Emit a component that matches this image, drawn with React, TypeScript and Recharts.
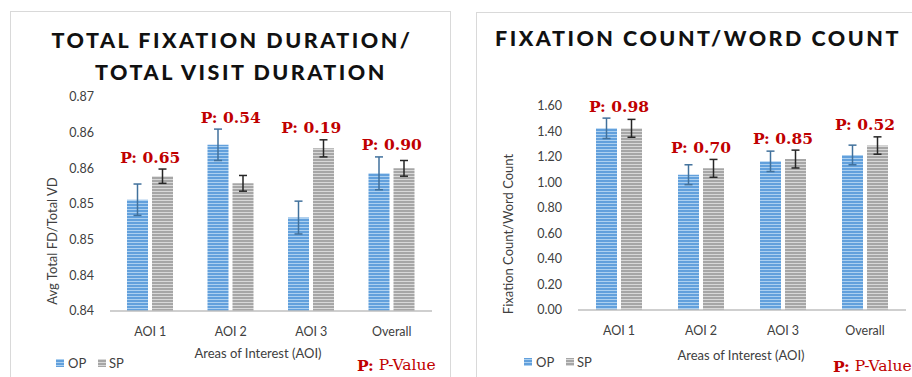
import { ComposedChart, Bar, Line, XAxis, YAxis, ErrorBar, LabelList } from 'recharts';

const categories = ['AOI 1', 'AOI 2', 'AOI 3', 'Overall'];

// left: total fixation duration / total visit duration
const durOP = [0.8556, 0.8633, 0.8531, 0.8593];
const durOPErr = [0.0022, 0.0022, 0.0023, 0.0023];
const durSP = [0.8589, 0.8579, 0.8628, 0.86];
const durSPErr = [0.001, 0.0011, 0.0012, 0.0011];
const durPValues = ['0.65', '0.54', '0.19', '0.90'];
const durTicks = [0.84, 0.845, 0.85, 0.855, 0.86, 0.865, 0.87];
const durTickLabels = ['0.84', '0.84', '0.85', '0.85', '0.86', '0.86', '0.87'];

// right: fixation count / word count
const cntOP = [1.425, 1.061, 1.166, 1.216];
const cntOPErr = [0.08, 0.078, 0.08, 0.077];
const cntSP = [1.425, 1.111, 1.184, 1.29];
const cntSPErr = [0.07, 0.07, 0.07, 0.068];
const cntPValues = ['0.98', '0.70', '0.85', '0.52'];
const cntTicks = [0, 0.2, 0.4, 0.6, 0.8, 1.0, 1.2, 1.4, 1.6];
const cntTickLabels = ['0.00', '0.20', '0.40', '0.60', '0.80', '1.00', '1.20', '1.40', '1.60'];

const sans = 'Lato, "Open Sans", sans-serif';
const serif = '"DejaVu Serif", "Liberation Serif", serif';
const red = '#C00000';
const textGray = '#404040';

function buildRows(op: number[], opErr: number[], sp: number[], spErr: number[], pv: string[]) {
  return categories.map((name, i) => ({
    name,
    op: op[i],
    opErr: opErr[i],
    sp: sp[i],
    spErr: spErr[i],
    pTop: Math.max(op[i] + opErr[i], sp[i] + spErr[i]),
    pLabel: `P: ${pv[i]}`,
  }));
}

const PLabel = (props: any) => {
  const { x, y, value } = props;
  return (
    <text x={x} y={y - 12} textAnchor="middle" dominantBaseline="central" fill={red}
      fontFamily={serif} fontWeight="bold" fontSize={15.5}>
      {value}
    </text>
  );
};

function Panel(props: {
  rows: any[];
  left: number;
  domain: [number, number];
  ticks: number[];
  tickLabels: string[];
  yWidth: number;
  margin: { top: number; right: number; left: number; bottom: number };
}) {
  const { rows, left, domain, ticks, tickLabels, yWidth, margin } = props;
  return (
    <div style={{ position: 'absolute', left, top: 0 }}>
      <ComposedChart width={456} height={377} data={rows} margin={margin} barSize={21} barGap={4}>
        <XAxis dataKey="name" axisLine={{ stroke: '#bfbfbf', strokeWidth: 1.5 }} tickLine={false}
          tickSize={0} tickMargin={16} height={30}
          tick={{ fill: textGray, fontSize: 12.5, fontFamily: sans }} />
        <YAxis type="number" domain={domain} ticks={ticks} interval={0} allowDataOverflow
          tickFormatter={(v: number, i: number) => tickLabels[i] ?? String(v)}
          axisLine={false} tickLine={false} tickSize={0} tickMargin={16} width={yWidth}
          tick={{ fill: textGray, fontSize: 12.5, fontFamily: sans }} />
        <Bar dataKey="op" fill="url(#opStripe)" isAnimationActive={false}>
          <ErrorBar dataKey="opErr" width={4} strokeWidth={1.5} stroke="#41719c" direction="y" />
        </Bar>
        <Bar dataKey="sp" fill="url(#spStripe)" isAnimationActive={false}>
          <ErrorBar dataKey="spErr" width={4} strokeWidth={1.5} stroke="#262626" direction="y" />
        </Bar>
        <Line dataKey="pTop" stroke="none" dot={false} activeDot={false} legendType="none"
          isAnimationActive={false}>
          <LabelList dataKey="pLabel" content={PLabel} />
        </Line>
      </ComposedChart>
    </div>
  );
}

function Legend({ x, y }: { x: number; y: number }) {
  return (
    <g fontFamily={sans} fontSize={13} fill={textGray}>
      <rect x={x} y={y - 4} width={8} height={8} fill="url(#opStripe)" />
      <text x={x + 12} y={y} dominantBaseline="central">OP</text>
      <rect x={x + 42} y={y - 4} width={8} height={8} fill="url(#spStripe)" />
      <text x={x + 53} y={y} dominantBaseline="central">SP</text>
    </g>
  );
}

function PKey({ x, y }: { x: number; y: number }) {
  return (
    <text x={x} y={y} dominantBaseline="central" fill={red} fontFamily={serif} fontSize={15.5}>
      <tspan fontWeight="bold">P:</tspan> P-Value
    </text>
  );
}

export default function App() {
  const durRows = buildRows(durOP, durOPErr, durSP, durSPErr, durPValues);
  const cntRows = buildRows(cntOP, cntOPErr, cntSP, cntSPErr, cntPValues);
  const titleStyle = { fontFamily: sans, fontWeight: 900, fontSize: 21.5, letterSpacing: 2.5, fill: '#111' };
  return (
    <div style={{ position: 'absolute', left: 0, top: 0, width: 912, height: 377, overflow: 'hidden', background: '#fff' }}>
      <svg width={912} height={377} style={{ position: 'absolute', left: 0, top: 0 }}>
        <defs>
          <pattern id="opStripe" patternUnits="userSpaceOnUse" width={4} height={3}>
            <rect width={4} height={3} fill="#62a0dc" />
            <rect y={2} width={4} height={1} fill="#acd0f0" />
          </pattern>
          <pattern id="spStripe" patternUnits="userSpaceOnUse" width={4} height={3}>
            <rect width={4} height={3} fill="#a6a6a6" />
            <rect y={2} width={4} height={1} fill="#d8d8d8" />
          </pattern>
        </defs>
        <rect x={10.5} y={11.5} width={440} height={380} fill="none" stroke="#d9d9d9" />
        <rect x={476.5} y={12.5} width={460} height={380} fill="none" stroke="#d9d9d9" />

        <text x={232} y={40} textAnchor="middle" dominantBaseline="central" style={titleStyle}>TOTAL FIXATION DURATION/</text>
        <text x={241} y={72} textAnchor="middle" dominantBaseline="central" style={titleStyle}>TOTAL VISIT DURATION</text>
        <text x={698} y={38} textAnchor="middle" dominantBaseline="central" style={titleStyle}>FIXATION COUNT/WORD COUNT</text>

        <text transform="translate(52,241) rotate(-90)" textAnchor="middle" dominantBaseline="central"
          fontFamily={sans} fontSize={13} fill={textGray}>Avg Total FD/Total VD</text>
        <text transform="translate(508,234) rotate(-90)" textAnchor="middle" dominantBaseline="central"
          fontFamily={sans} fontSize={13} fill={textGray}>Fixation Count/Word Count</text>

        <text x={258} y={353} textAnchor="middle" dominantBaseline="central" fontFamily={sans} fontSize={13} fill={textGray}>Areas of Interest (AOI)</text>
        <text x={741} y={355} textAnchor="middle" dominantBaseline="central" fontFamily={sans} fontSize={13} fill={textGray}>Areas of Interest (AOI)</text>

        <Legend x={56} y={363} />
        <Legend x={524} y={362} />
        <PKey x={357} y={365} />
        <PKey x={833} y={366} />
      </svg>
      <Panel rows={durRows} left={0} domain={[0.84, 0.87]} ticks={durTicks} tickLabels={durTickLabels}
        yWidth={110} margin={{ top: 97, right: 24, left: 0, bottom: 36 }} />
      <Panel rows={cntRows} left={456} domain={[0, 1.6]} ticks={cntTicks} tickLabels={cntTickLabels}
        yWidth={122} margin={{ top: 106, right: 6, left: 0, bottom: 37 }} />
    </div>
  );
}
